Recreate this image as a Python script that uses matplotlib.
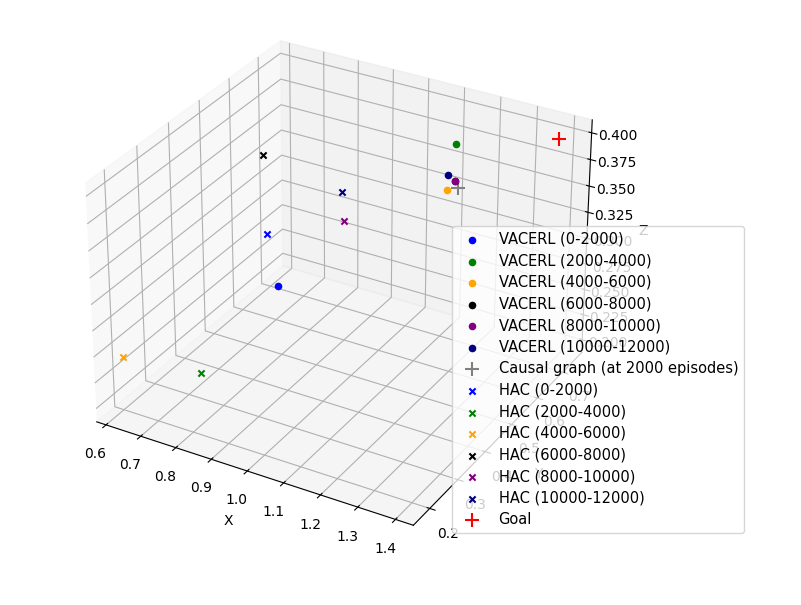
import matplotlib
matplotlib.use("Agg")
import matplotlib.pyplot as plt
from matplotlib.ticker import MultipleLocator

# VACERL points (x, y, z)
vacerl_labels = ["VACERL (0-2000)", "VACERL (2000-4000)", "VACERL (4000-6000)",
                 "VACERL (6000-8000)", "VACERL (8000-10000)", "VACERL (10000-12000)"]
vacerl_x = [0.824, 1.126, 1.104, 1.126, 1.126, 1.104]
vacerl_y = [0.46, 0.714, 0.714, 0.714, 0.714, 0.714]
vacerl_z = [0.2666, 0.374, 0.3285, 0.3394, 0.3394, 0.3432]

causal_x = [1.134]
causal_y = [0.714]
causal_z = [0.3329]

hac_labels = ["HAC (0-2000)", "HAC (2000-4000)", "HAC (4000-6000)",
              "HAC (6000-8000)", "HAC (8000-10000)", "HAC (10000-12000)"]
hac_x = [0.794, 0.700, 0.6245, 0.7875, 0.9605, 0.9555]
hac_y = [0.46, 0.341, 0.177, 0.46, 0.524, 0.524]
hac_z = [0.3145, 0.1976, 0.247, 0.388, 0.3279, 0.3549]

goal_x = [1.393]
goal_y = [0.728]
goal_z = [0.400]

colors = ["blue", "green", "orange", "black", "purple", "navy"]

fig = plt.figure(figsize=(8.01, 6.05), dpi=100)
ax = fig.add_axes([0.0676, 0.0730, 0.7038, 0.9317], projection="3d")

for i in range(6):
    ax.scatter([vacerl_x[i]], [vacerl_y[i]], [vacerl_z[i]], color=colors[i],
               marker="o", label=vacerl_labels[i], depthshade=False)
ax.scatter(causal_x, causal_y, causal_z, color="gray", marker="+", s=100,
           label="Causal graph (at 2000 episodes)", depthshade=False)
for i in range(6):
    ax.scatter([hac_x[i]], [hac_y[i]], [hac_z[i]], color=colors[i],
               marker="x", label=hac_labels[i], depthshade=False)
ax.scatter(goal_x, goal_y, goal_z, color="red", marker="+", s=100,
           label="Goal", depthshade=False)

ax.set_xlim(0.573, 1.447)
ax.set_ylim(0.143, 0.778)
ax.set_zlim(0.187, 0.412)
ax.zaxis.set_major_locator(MultipleLocator(0.025))
ax.set_xlabel("X")
ax.set_ylabel("Y")
ax.set_zlabel("Z")
ax.legend(loc="lower right", bbox_to_anchor=(744 / 801, 72 / 605),
          bbox_transform=fig.transFigure, borderaxespad=0,
          fontsize=10.5, labelspacing=0.45)

fig.savefig("out.png", dpi=100)
